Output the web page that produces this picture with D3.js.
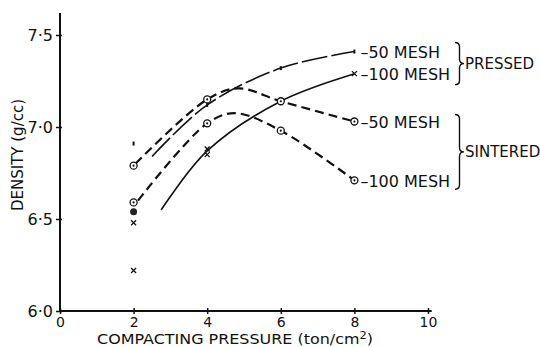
<!DOCTYPE html>
<html>
<head>
<meta charset="utf-8">
<script src="https://cdn.jsdelivr.net/npm/d3@7/dist/d3.min.js"></script>
<style>
body { margin: 0; background: #fff; }
svg { display: block; }
text { font-family: 'DejaVu Sans', sans-serif; fill: #111; }
</style>
</head>
<body>
<div id="chart"></div>
<script>
'use strict';

// axis ticks
const pressureTicks = [0, 2, 4, 6, 8, 10];
const densityTicks = [6.0, 6.5, 7.0, 7.5];

// measured points [pressure, density]
const pressed50 = [[2, 6.91], [4, 7.12], [6, 7.32], [8, 7.41]];
const pressed100 = [[2, 6.48], [2, 6.22], [4, 6.88], [4, 6.85], [6, 7.14], [8, 7.29]];
const sintered50 = [[2, 6.79], [4, 7.15], [6, 7.14], [8, 7.03]];
const sintered100 = [[2, 6.59], [4, 7.02], [6, 6.98], [8, 6.71]];
const sinteredFilled = [[2, 6.54]];

// fitted curves as drawn
const pressed50Curve = [[2.5, 6.84], [4, 7.12], [6, 7.32], [8, 7.41]];
const pressed100Curve = [[2.75, 6.55], [4, 6.87], [6, 7.14], [8, 7.29]];
const sintered50Curve = [[2.05, 6.80], [4, 7.15], [4.85, 7.21], [6, 7.14], [8, 7.03]];
const sintered100Curve = [[2.12, 6.60], [4, 7.02], [4.75, 7.075], [6, 6.98], [8, 6.71]];

const seriesLabels = ['\u201350 MESH', '\u2013100 MESH', '\u201350 MESH', '\u2013100 MESH'];
const groupLabels = ['PRESSED', 'SINTERED'];

const width = 540;
const height = 347;

const x = d3.scaleLinear().domain([0, 10]).range([60, 428]);
const y = d3.scaleLinear().domain([6, 7.5]).range([311, 35]);

const svg = d3.select('#chart').append('svg')
    .attr('width', width)
    .attr('height', height);

// axes
svg.append('line')
    .attr('x1', x(0)).attr('x2', x(0))
    .attr('y1', y(6)).attr('y2', y(7.62))
    .attr('stroke', '#111').attr('stroke-width', 2);
svg.append('line')
    .attr('x1', x(0)).attr('x2', x(10.1))
    .attr('y1', y(6)).attr('y2', y(6))
    .attr('stroke', '#111').attr('stroke-width', 2);

const yAxis = svg.append('g')
    .attr('transform', `translate(${x(0)},0)`)
    .call(d3.axisLeft(y)
        .tickValues(densityTicks)
        .tickSize(4)
        .tickPadding(3)
        .tickFormat(d => d.toFixed(1).replace('.', '\u00b7')));
yAxis.select('.domain').remove();
yAxis.selectAll('line').attr('stroke', '#111').attr('stroke-width', 1.5).attr('x2', -4).attr('x1', 2);
yAxis.selectAll('text').style('font-size', '16px').attr('fill', '#111');

const xAxis = svg.append('g')
    .attr('transform', `translate(0,${y(6)})`)
    .call(d3.axisBottom(x)
        .tickValues(pressureTicks)
        .tickSize(3)
        .tickPadding(3)
        .tickFormat(d3.format('d')));
xAxis.select('.domain').remove();
xAxis.selectAll('line').attr('stroke', '#111').attr('stroke-width', 1.5).attr('y1', -3);
xAxis.selectAll('text').style('font-size', '14px').attr('fill', '#111');

// axis titles
svg.append('text')
    .attr('x', 235).attr('y', 343.5)
    .attr('text-anchor', 'middle')
    .attr('textLength', 276)
    .attr('lengthAdjust', 'spacingAndGlyphs')
    .style('font-size', '14px')
    .html('COMPACTING PRESSURE (ton/cm<tspan dy="-5" style="font-size:10px">2</tspan><tspan dy="5">)</tspan>');

svg.append('text')
    .attr('transform', 'translate(23,155) rotate(-90)')
    .attr('text-anchor', 'middle')
    .style('font-size', '15px')
    .text('DENSITY (g/cc)');

// curves
const line = d3.line()
    .x(d => x(d[0]))
    .y(d => y(d[1]))
    .curve(d3.curveCatmullRom.alpha(0.5));

const curves = [
    {data: pressed50Curve, dash: '26,4', w: 1.6},
    {data: pressed100Curve, dash: null, w: 1.6},
    {data: sintered50Curve, dash: '9,5', w: 2.2},
    {data: sintered100Curve, dash: '9,5', w: 2.2}
];
svg.append('g')
    .selectAll('path')
    .data(curves)
    .enter()
    .append('path')
    .attr('d', d => line(d.data))
    .attr('fill', 'none')
    .attr('stroke', '#111')
    .attr('stroke-width', d => d.w)
    .attr('stroke-dasharray', d => d.dash);

// markers
svg.append('g')
    .selectAll('rect')
    .data(pressed50)
    .enter()
    .append('rect')
    .attr('x', d => x(d[0]) - 1)
    .attr('y', d => y(d[1]) - 2)
    .attr('width', 2)
    .attr('height', 4)
    .attr('fill', '#111');

svg.append('g')
    .selectAll('path')
    .data(pressed100)
    .enter()
    .append('path')
    .attr('d', d => {
        const cx = x(d[0]), cy = y(d[1]), s = 2.5;
        return `M${cx - s},${cy - s}L${cx + s},${cy + s}M${cx - s},${cy + s}L${cx + s},${cy - s}`;
    })
    .attr('stroke', '#111')
    .attr('stroke-width', 1.3);

const circles = sintered50.concat(sintered100);
const cg = svg.append('g');
cg.selectAll('circle.ring')
    .data(circles)
    .enter()
    .append('circle')
    .attr('class', 'ring')
    .attr('cx', d => x(d[0]))
    .attr('cy', d => y(d[1]))
    .attr('r', 3.5)
    .attr('fill', '#fff')
    .attr('stroke', '#111')
    .attr('stroke-width', 1.3);
cg.selectAll('circle.dot')
    .data(circles)
    .enter()
    .append('circle')
    .attr('class', 'dot')
    .attr('cx', d => x(d[0]))
    .attr('cy', d => y(d[1]))
    .attr('r', 1.1)
    .attr('fill', '#111');
cg.selectAll('circle.filled')
    .data(sinteredFilled)
    .enter()
    .append('circle')
    .attr('class', 'filled')
    .attr('cx', d => x(d[0]))
    .attr('cy', d => y(d[1]))
    .attr('r', 3.5)
    .attr('fill', '#222');

// series labels at curve ends
const ends = [pressed50, pressed100, sintered50, sintered100].map(s => s[s.length - 1]);
svg.append('g')
    .selectAll('text')
    .data(ends)
    .enter()
    .append('text')
    .attr('x', d => x(d[0]) + 6)
    .attr('y', d => y(d[1]) + 1)
    .attr('dy', '0.35em')
    .style('font-size', '16px')
    .text((d, i) => seriesLabels[i]);

// braces and group labels
function brace(bx, y0, y1, w) {
    const ym = (y0 + y1) / 2;
    const m = bx + w / 2;
    return `M${bx},${y0}Q${m},${y0} ${m},${y0 + w / 2}L${m},${ym - w / 2}Q${m},${ym} ${bx + w},${ym}` +
        `Q${m},${ym} ${m},${ym + w / 2}L${m},${y1 - w / 2}Q${m},${y1} ${bx},${y1}`;
}
const groups = [
    {y0: y(7.41) - 9, y1: y(7.29) + 11},
    {y0: y(7.03) - 7, y1: y(6.71) + 9}
];
svg.append('g')
    .selectAll('path')
    .data(groups)
    .enter()
    .append('path')
    .attr('d', d => brace(455, d.y0, d.y1, 9))
    .attr('fill', 'none')
    .attr('stroke', '#111')
    .attr('stroke-width', 1.4);
svg.append('g')
    .selectAll('text')
    .data(groups)
    .enter()
    .append('text')
    .attr('x', 465)
    .attr('y', d => (d.y0 + d.y1) / 2)
    .attr('dy', '0.35em')
    .style('font-size', '15px')
    .text((d, i) => groupLabels[i]);
</script>
</body>
</html>
